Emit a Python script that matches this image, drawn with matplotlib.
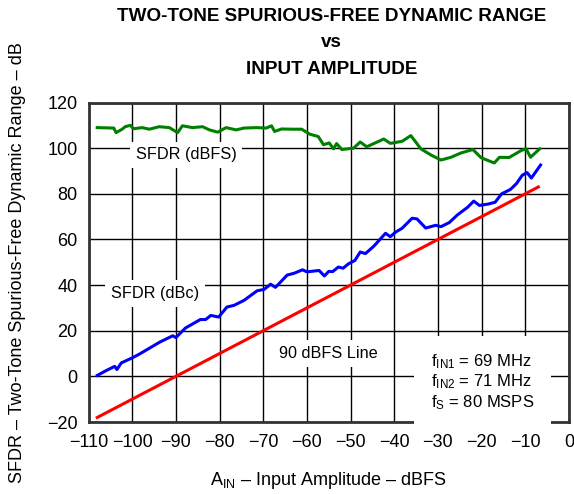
import matplotlib
matplotlib.use('Agg')
import matplotlib.pyplot as plt

plt.rcParams['font.family'] = ['Liberation Sans', 'DejaVu Sans']
plt.rcParams['mathtext.fontset'] = 'custom'
plt.rcParams['mathtext.rm'] = 'Liberation Sans'
plt.rcParams['mathtext.default'] = 'regular'

# SFDR (dBFS) - green
dbfs_x = [-108, -104.2, -103.7, -102.3, -101.6, -100.4, -99.7, -97.7, -96.1, -93.8,
          -91.5, -89.6, -88.5, -86.2, -83.9, -82.3, -80.4, -78.5, -76.2, -74.4,
          -71.6, -69.3, -68.1, -67.4, -65.8, -63.1, -61.2, -59.3, -57.4, -56.2,
          -54.9, -53.9, -53.2, -52, -49.3, -47.8, -46.3, -42.4, -40.9, -38.2,
          -36.2, -33.9, -31.6, -29.3, -27, -24.7, -22, -20.1, -17.1, -15.9,
          -13.7, -10.9, -9.8, -8.8, -6.7]
dbfs_y = [109, 108.8, 106.8, 108.3, 109.4, 110, 108.5, 109, 108.3, 109.4,
          109, 106.8, 109.8, 109, 109.4, 108, 107, 109, 108, 108.8,
          109, 108.8, 109.8, 107.3, 108.4, 108.3, 108.3, 106.1, 105.1, 101.5,
          102.3, 99.7, 102, 99.4, 100, 102.7, 100.6, 104, 102.1, 103,
          105.5, 99.7, 97, 94.8, 96, 97.9, 99.4, 95.8, 93.5, 96,
          95.9, 99, 99.7, 96, 99.7]

# SFDR (dBc) - blue
dbc_x = [-108, -106, -104, -103.5, -102.5, -100, -98.5, -96, -93.7, -90.7,
         -90, -87.8, -84.4, -83.2, -82, -80.2, -78.3, -76.7, -74.4, -71.4,
         -69.8, -68.3, -67.2, -64.5, -62.9, -61, -60, -57.2, -56, -55,
         -54.1, -52.8, -51.7, -50.5, -49, -47.8, -46.6, -44.7, -42, -40.9,
         -39.7, -38.2, -35.9, -34.8, -32.8, -30.5, -29.3, -27.4, -25.5, -23.2,
         -21.8, -20.5, -18.5, -16.9, -15.4, -13.4, -12, -10.7, -9.6, -8.6, -6.5]
dbc_y = [0.4, 2.5, 4.4, 3, 5.9, 8.1, 9.6, 12.4, 15, 17.8,
         17, 21.2, 24.9, 24.9, 26.7, 26, 30.4, 31.1, 33.3, 37.5,
         38.1, 40.4, 39, 44.4, 45.2, 46.7, 45.8, 46.4, 44, 46,
         45.9, 47.9, 47.4, 49.3, 50.8, 54.5, 53.8, 57, 62.7, 61.2,
         63.2, 64.9, 69.3, 69, 65, 66.2, 65.6, 67.4, 70.8, 74.1,
         76.8, 74.9, 75.5, 76.3, 80, 81.9, 84.5, 88.1, 89.3, 86.9, 92.6]

# 90 dBFS line - red
line_x = [-108, -7]
line_y = [-18, 83]

x_ticks = [-110, -100, -90, -80, -70, -60, -50, -40, -30, -20, -10, 0]
y_ticks = [-20, 0, 20, 40, 60, 80, 100, 120]

fig = plt.figure(figsize=(5.74, 4.94), dpi=100)
ax = fig.add_axes([0.1542, 0.1457, 0.837, 0.6468])

ax.plot(line_x, line_y, color='#ff0000', lw=2.2, zorder=3)
ax.plot(dbc_x, dbc_y, color='#0000ff', lw=2.2, zorder=3)
ax.plot(dbfs_x, dbfs_y, color='#008000', lw=2.2, zorder=3)

ax.set_xlim(-110, 0)
ax.set_ylim(-20, 120)
ax.set_xticks(x_ticks)
ax.set_yticks(y_ticks)
ax.tick_params(length=0, labelsize=13)
ax.tick_params(axis='x', pad=8.5)
ax.tick_params(axis='y', pad=8)
ax.grid(True, color='black', lw=1)
ax.set_axisbelow(True)
for s in ax.spines.values():
    s.set_color('#333333')
    s.set_linewidth(2)

box = dict(boxstyle='square,pad=0.35', fc='white', ec='none')
ax.text(-87.7, 97, 'SFDR (dBFS)', fontsize=11.7, ha='center', va='center', bbox=box, zorder=4)
ax.text(-94.8, 36.3, 'SFDR (dBc)', fontsize=11.7, ha='center', va='center', bbox=box, zorder=4)
ax.text(-55, 10, '90 dBFS Line', fontsize=11.7, ha='center', va='center', bbox=box, zorder=4)
ax.text(-31.6, -2.5, 'f$_{IN1}$ = 69 MHz\nf$_{IN2}$ = 71 MHz\nf$_{S}$ = 80 MSPS',
        fontsize=12, ha='left', va='center', linespacing=1.1,
        bbox=dict(boxstyle='square,pad=1.0', fc='white', ec='none'), zorder=4)

ax.set_xlabel('A$_{IN}$ – Input Amplitude – dBFS', fontsize=13, labelpad=14)
ax.set_ylabel('SFDR – Two-Tone Spurious-Free Dynamic Range – dB', fontsize=13, labelpad=15)

title_lines = ['TWO-TONE SPURIOUS-FREE DYNAMIC RANGE', 'vs', 'INPUT AMPLITUDE']
for txt, yc in zip(title_lines, [0.967, 0.913, 0.860]):
    fig.text(0.577, yc, txt, fontsize=13.6, fontweight='bold', ha='center', va='center')

fig.savefig('out.png', dpi=100)
